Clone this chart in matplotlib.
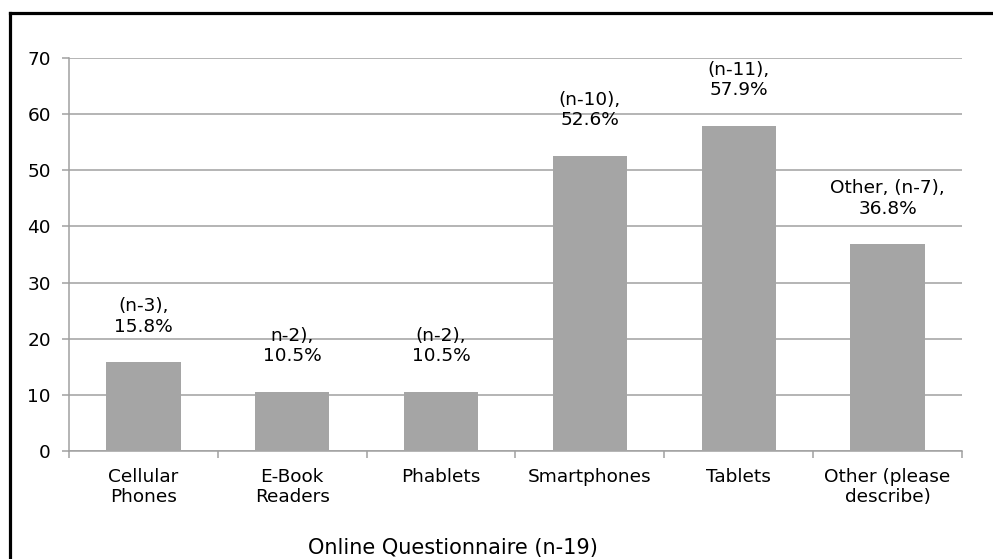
import numpy as np
import matplotlib
matplotlib.use("Agg")
import matplotlib.pyplot as plt
from matplotlib.lines import Line2D

# DATA

categories = ["Cellular\nPhones", "E-Book\nReaders", "Phablets",
              "Smartphones", "Tablets", "Other (please\ndescribe)"]
percent = [15.8, 10.5, 10.5, 52.6, 57.9, 36.8]
bar_labels = ["(n-3),\n15.8%", "n-2),\n10.5%", "(n-2),\n10.5%",
              "(n-10),\n52.6%", "(n-11),\n57.9%", "Other, (n-7),\n36.8%"]
y_ticks = [0, 10, 20, 30, 40, 50, 60, 70]
x_title = "Online Questionnaire (n-19)"

plt.rcParams['font.family'] = ['DejaVu Sans']
FS = 13.3
LS = 1.18

W, H = 993, 559
fig = plt.figure(figsize=(W / 100, H / 100), dpi=100)
fig.patch.set_facecolor("white")

# FRAME (only top and left edges fall inside the canvas)
fig.add_artist(Line2D([9.5 / W, 1.0], [1 - 13 / H, 1 - 13 / H], color="black", lw=2.3,
                      transform=fig.transFigure, solid_capstyle="projecting"))
fig.add_artist(Line2D([9.5 / W, 9.5 / W], [0.0, 1 - 13 / H], color="black", lw=2.3,
                      transform=fig.transFigure, solid_capstyle="projecting"))

# AXES

left, right, top, bottom = 69, 962, 58, 451
ax = fig.add_axes([left / W, 1 - bottom / H, (right - left) / W, (bottom - top) / H])

x = np.arange(len(categories))
ax.bar(x, percent, width=0.5, color="#A5A5A5", zorder=3)

ax.set_xlim(-0.5, len(categories) - 0.5)
ax.set_ylim(0, 70)
ax.set_yticks(y_ticks)
ax.grid(axis="y", color="#A0A0A0", lw=1.1, zorder=0)
ax.set_axisbelow(True)

for side in ["top", "right"]:
    ax.spines[side].set_visible(False)
for side in ["left", "bottom"]:
    ax.spines[side].set_color("#A0A0A0")
    ax.spines[side].set_linewidth(1.1)

# category ticks sit on the boundaries between bars
ax.set_xticks(np.arange(len(categories) + 1) - 0.5)
ax.set_xticklabels([])
ax.set_xticks(x, minor=True)
ax.set_xticklabels(categories, minor=True, fontsize=FS, linespacing=LS)
ax.tick_params(axis="x", which="major", length=5, color="#A0A0A0", width=1.1)
ax.tick_params(axis="x", which="minor", length=0, pad=12)
ax.tick_params(axis="y", length=5, color="#A0A0A0", width=1.1, labelsize=FS, pad=8)

# DATA LABELS

for xi, val, lab in zip(x, percent, bar_labels):
    ax.annotate(lab, (xi, val), xytext=(0, 22), textcoords="offset points",
                ha="center", va="baseline", fontsize=FS, linespacing=LS,
                annotation_clip=False)

fig.text(453 / W, 1 - 548 / H, x_title, ha="center", va="center", fontsize=15)

fig.savefig("out.png", dpi=100)
